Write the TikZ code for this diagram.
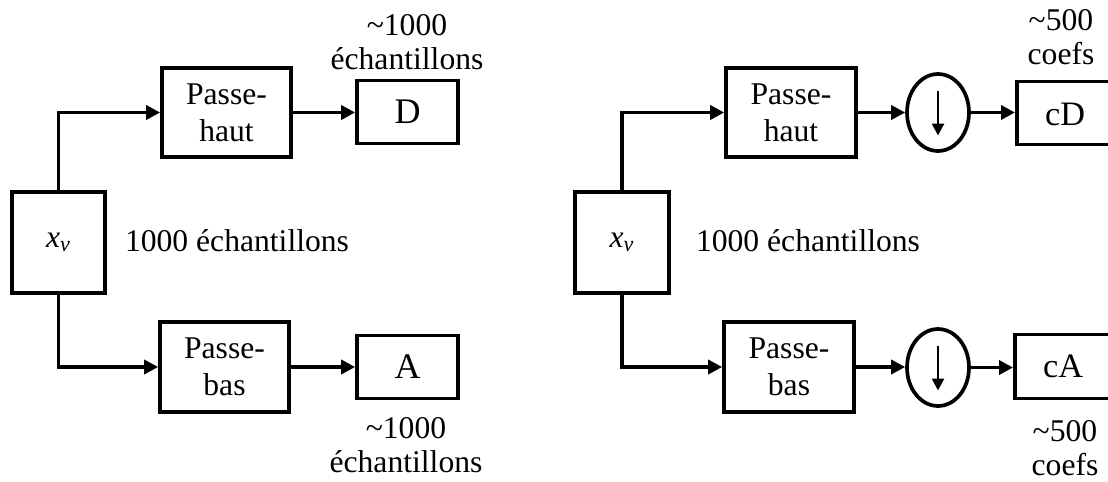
\documentclass[tikz,border=0pt]{standalone}
\usepackage{fontspec}
\setmainfont{Liberation Serif}
\usetikzlibrary{arrows.meta,shapes.geometric}

\tikzset{
  bloc/.style={draw, line width=2.1pt, inner sep=0pt, align=center,
               font=\fontsize{18pt}{21pt}\selectfont},
  decim/.style={draw, ellipse, line width=2.1pt, inner sep=0pt,
                minimum width=1.24cm, minimum height=1.54cm},
  fleche/.style={line width=2.1pt, -{Triangle[length=0.28cm,width=0.28cm]}},
  legende/.style={align=center, inner sep=0pt, font=\fontsize{18pt}{19.5pt}\selectfont}
}

\begin{document}
\begin{tikzpicture}[x=0.02cm, y=-0.02cm]
               \useasboundingbox (0,0) rectangle (1108,481);
               \clip (0,0) rectangle (1108,481);
               % ---- left: plain filter bank
               \node [bloc, minimum width=1.86cm, minimum height=2.02cm] (xv) at (58.5,242.5) {\textit{x\textsubscript{v}}};
               \node [legende, font=\fontsize{18pt}{21pt}\selectfont] (nb) at (237,241) {1000 échantillons};
               % high-pass branch
               \node [bloc, minimum width=2.58cm, minimum height=1.78cm] (ph) at (226.5,112.5) {Passe-\\haut};
               \node [bloc, minimum width=2.02cm, minimum height=1.26cm, font=\fontsize{20.5pt}{21pt}\selectfont] (d) at (407.5,112) {D};
               \node [legende] (nd) at (407,42) {\textasciitilde1000\\échantillons};
               % low-pass branch
               \node [bloc, minimum width=2.58cm, minimum height=1.8cm] (pb) at (224.5,367) {Passe-\\bas};
               \node [bloc, minimum width=2.02cm, minimum height=1.26cm, font=\fontsize{20.5pt}{21pt}\selectfont] (a) at (407.5,367) {A};
               \node [legende] (na) at (406,445) {\textasciitilde1000\\échantillons};
               % arrows
               \draw [fleche] (xv.north) |- (ph.west);
               \draw [fleche] (xv.south) |- (pb.west);
               \draw [fleche] (ph.east) -- (ph.east -| d.west);
               \draw [fleche] (pb.east) -- (a.west);

               % ---- right: filter bank with decimation
               \node [bloc, minimum width=1.88cm, minimum height=2.02cm] (xvb) at (622,242.5) {\textit{x\textsubscript{v}}};
               \node [legende, font=\fontsize{18pt}{21pt}\selectfont] (nbb) at (808,241) {1000 échantillons};
               % high-pass branch
               \node [bloc, minimum width=2.6cm, minimum height=1.78cm] (phb) at (791,112.5) {Passe-\\haut};
               \node [decim] (dech) at (938,112.5) {};
               \draw [line width=1.6pt, -{Triangle[length=0.24cm,width=0.24cm]}] ([yshift=0.44cm]dech.center) -- ([yshift=-0.46cm]dech.center);
               \node [bloc, minimum width=2.7cm, minimum height=1.26cm, anchor=west] (cd) at (1015,113) {};
               \node [legende, font=\fontsize{19.5pt}{21pt}\selectfont] at (1065,114) {cD};
               \node [legende] (ncd) at (1061,37.5) {\textasciitilde500\\coefs};
               % low-pass branch
               \node [bloc, minimum width=2.6cm, minimum height=1.8cm] (pbb) at (789,367) {Passe-\\bas};
               \node [decim] (decb) at (938,367.5) {};
               \draw [line width=1.6pt, -{Triangle[length=0.24cm,width=0.24cm]}] ([yshift=0.44cm]decb.center) -- ([yshift=-0.46cm]decb.center);
               \node [bloc, minimum width=2.7cm, minimum height=1.28cm, anchor=west] (ca) at (1013,366.5) {};
               \node [legende, font=\fontsize{19.5pt}{21pt}\selectfont] at (1063,366) {cA};
               \node [legende] (nca) at (1065,448) {\textasciitilde500\\coefs};
               % arrows
               \draw [fleche] (xvb.north) |- (phb.west);
               \draw [fleche] (xvb.south) |- (pbb.west);
               \draw [fleche] (phb.east) -- (dech.west);
               \draw [fleche] (dech.east) -- (dech.east -| cd.west);
               \draw [fleche] (pbb.east) -- (pbb.east -| decb.west);
               \draw [fleche] (decb.east) -- (decb.east -| ca.west);
            \end{tikzpicture}
\end{document}
